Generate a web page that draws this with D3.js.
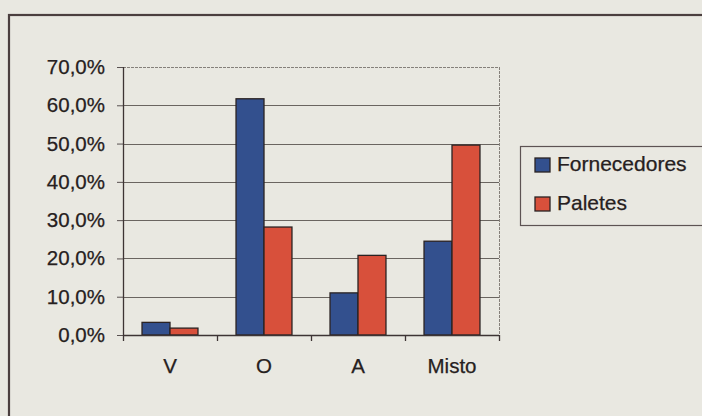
<!DOCTYPE html>
<html>
<head>
<meta charset="utf-8">
<script src="https://cdn.jsdelivr.net/npm/d3@7/dist/d3.min.js"></script>
<style>
  html, body { margin: 0; padding: 0; background: #e9e8e1; }
  svg { display: block; }
</style>
</head>
<body>
<svg id="chart" width="702" height="416"></svg>
<script>
// Share of each rack type, by supplier count and by pallet count
const categories = ["V", "O", "A", "Misto"];
const seriesNames = ["Fornecedores", "Paletes"];
const fornecedores = [0.033, 0.617, 0.110, 0.245];
const paletes = [0.018, 0.282, 0.208, 0.496];
const yTicks = [0, 0.1, 0.2, 0.3, 0.4, 0.5, 0.6, 0.7];
const seriesColors = ["#33508e", "#d8503b"];

const svg = d3.select("#chart");
const W = 702, H = 416;
const plot = { left: 123, right: 499, top: 67, bottom: 335 };
const textColor = "#262020";
const fontFamily = "'Liberation Sans', Arial, sans-serif";

svg.append("rect").attr("width", W).attr("height", H).attr("fill", "#e9e8e1");

// Outer chart frame (continues past the right and bottom edges)
svg.append("rect")
  .attr("x", 9).attr("y", 15).attr("width", 760).attr("height", 460)
  .attr("fill", "none").attr("stroke", "#4b3f3f").attr("stroke-width", 2.2);

const x0 = d3.scaleBand().domain(categories).range([plot.left, plot.right]);
const x1 = d3.scaleBand().domain(seriesNames)
  .range([0, x0.bandwidth()]).paddingInner(0).paddingOuter(0.68);
const y = d3.scaleLinear().domain([0, 0.7]).range([plot.bottom, plot.top]);

const pctLocale = d3.formatLocale({ decimal: ",", thousands: ".", grouping: [3], currency: ["", ""] });
const fmt = pctLocale.format(".1%");

// Horizontal gridlines
const grid = svg.append("g");
grid.selectAll("line").data(yTicks.filter(t => t > 0)).join("line")
  .attr("x1", plot.left).attr("x2", plot.right)
  .attr("y1", d => Math.round(y(d)) + 0.5).attr("y2", d => Math.round(y(d)) + 0.5)
  .attr("stroke", d => d === 0.7 ? "#85807a" : "#6a6560")
  .attr("stroke-width", 1)
  .attr("stroke-dasharray", d => d === 0.7 ? "3,1" : null);

// Right edge of plot area
svg.append("line")
  .attr("x1", plot.right + 0.5).attr("x2", plot.right + 0.5)
  .attr("y1", plot.top).attr("y2", plot.bottom)
  .attr("stroke", "#85807a").attr("stroke-dasharray", "3,1");

// Bars
const data = categories.map((c, i) => ({ cat: c, vals: [fornecedores[i], paletes[i]] }));
const groups = svg.append("g").selectAll("g").data(data).join("g")
  .attr("transform", d => `translate(${x0(d.cat)},0)`);
groups.selectAll("rect").data(d => d.vals.map((v, j) => ({ v, s: seriesNames[j], j })))
  .join("rect")
  .attr("x", d => x1(d.s))
  .attr("y", d => y(d.v))
  .attr("width", x1.bandwidth())
  .attr("height", d => y(0) - y(d.v))
  .attr("fill", d => seriesColors[d.j])
  .attr("stroke", "#2a2222").attr("stroke-width", 1.3);

// Y axis
const yAxis = d3.axisLeft(y).tickValues(yTicks).tickFormat(fmt).tickSize(6).tickPadding(12);
const gy = svg.append("g").attr("transform", `translate(${plot.left},0)`).call(yAxis);
gy.select(".domain").remove();
gy.selectAll(".tick line").attr("stroke", "#5a5252");
gy.selectAll(".tick text")
  .style("font-family", fontFamily)
  .style("font-size", "20.5px").attr("fill", textColor)
  .attr("stroke", textColor).attr("stroke-width", 0.25);
svg.append("line")
  .attr("x1", plot.left + 0.5).attr("x2", plot.left + 0.5)
  .attr("y1", plot.top).attr("y2", plot.bottom + 6)
  .attr("stroke", "#3d3434").attr("stroke-width", 1.3);

// X axis with ticks between categories
const gx = svg.append("g");
gx.append("line")
  .attr("x1", plot.left).attr("x2", plot.right)
  .attr("y1", plot.bottom + 0.5).attr("y2", plot.bottom + 0.5)
  .attr("stroke", "#3d3434").attr("stroke-width", 1.3);
gx.selectAll("line.tk").data(categories).join("line").attr("class", "tk")
  .attr("x1", d => x0(d) + x0.bandwidth() + 0.5).attr("x2", d => x0(d) + x0.bandwidth() + 0.5)
  .attr("y1", plot.bottom).attr("y2", plot.bottom + 6)
  .attr("stroke", "#3d3434").attr("stroke-width", 1.3);
gx.selectAll("text").data(categories).join("text")
  .attr("x", d => x0(d) + x0.bandwidth() / 2)
  .attr("y", 373)
  .attr("text-anchor", "middle")
  .style("font-family", fontFamily)
  .style("font-size", "20.5px").attr("fill", textColor)
  .attr("stroke", textColor).attr("stroke-width", 0.25)
  .text(d => d);

// Legend
const legend = svg.append("g");
legend.append("rect")
  .attr("x", 520.5).attr("y", 146.5).attr("width", 240).attr("height", 79)
  .attr("fill", "#e9e8e1").attr("stroke", "#5d5353").attr("stroke-width", 1.2);
const items = legend.selectAll("g").data(seriesNames).join("g")
  .attr("transform", (d, i) => `translate(535,${158 + i * 39})`);
items.append("rect")
  .attr("width", 15).attr("height", 14)
  .attr("fill", (d, i) => seriesColors[i])
  .attr("stroke", "#2a2222").attr("stroke-width", 1.3);
items.append("text")
  .attr("x", 22).attr("y", 12.5)
  .style("font-family", fontFamily)
  .style("font-size", "21px").attr("fill", textColor)
  .attr("stroke", textColor).attr("stroke-width", 0.25)
  .text(d => d);
</script>
</body>
</html>
